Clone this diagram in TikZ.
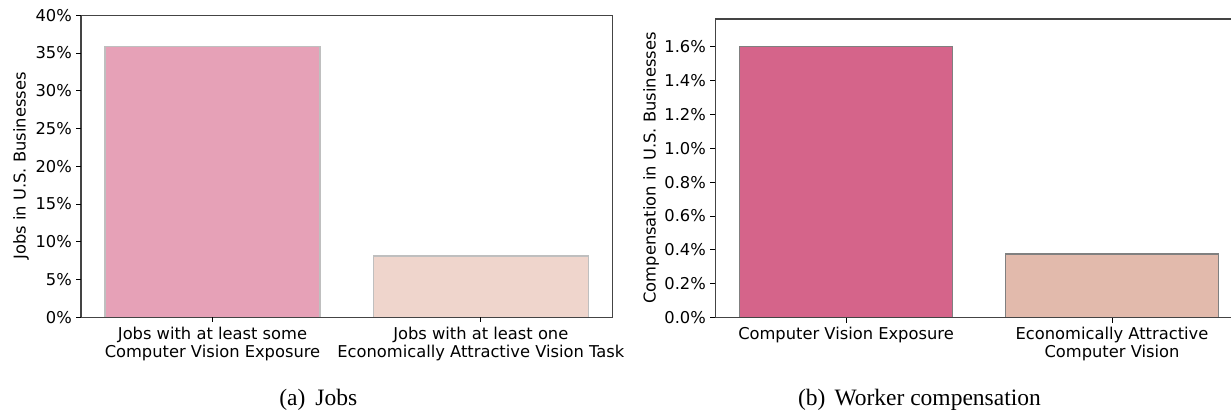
\documentclass[tikz,border=0pt]{standalone}
\usepackage{fontspec}
\newfontfamily\dvs{DejaVu Sans}
\newfontfamily\tms{Liberation Serif}
\definecolor{barA}{HTML}{E6A1B7}
\definecolor{barB}{HTML}{EFD5CC}
\definecolor{barC}{HTML}{D5648A}
\definecolor{barD}{HTML}{E2BAAC}
\definecolor{spinecol}{HTML}{444444}
\tikzset{
  ticklab/.style={font=\dvs\fontsize{16.3bp}{18.7bp}\selectfont, inner sep=0pt, text=black},
  xlab/.style={font=\dvs\fontsize{16.3bp}{18.7bp}\selectfont, inner sep=0pt, align=center, anchor=north},
  ylab/.style={font=\dvs\fontsize{16.3bp}{18.7bp}\selectfont, inner sep=0pt, rotate=90},
  caption/.style={font=\tms\fontsize{23.5bp}{28bp}\selectfont, inner sep=0pt, anchor=base},
  spine/.style={draw=spinecol, line width=1.2bp},
  tickmark/.style={draw=black, line width=1bp},
  lightbar/.style={draw=black!25, line width=1.2bp},
  darkbar/.style={draw=black!50, line width=1.2bp},
}
\begin{document}
\begin{tikzpicture}[x=1bp,y=-1bp]
\useasboundingbox (0,0) rectangle (1231,415);
% ---------- left plot ----------
\filldraw[fill=barA, lightbar] (105,46.7) rectangle (320,317.3);
\filldraw[fill=barB, lightbar] (373.3,256) rectangle (588.3,317.3);
\draw[spine] (81,15.3) rectangle (612.5,317.3);
\foreach \v/\name in {0/a0,5/a5,10/a10,15/a15,20/a20,25/a25,30/a30,35/a35,40/a40}{
  \coordinate (t\name) at (81,{317.3-\v*7.55});
  \draw[tickmark] (t\name) -- ++(-5,0);
  \node[ticklab, anchor=east] (l\name) at (72,{317.3-\v*7.55}) {\v\%};
}
\coordinate (xa1) at (212.5,317.3);
\coordinate (xa2) at (480.8,317.3);
\draw[tickmark] (xa1) -- ++(0,5);
\draw[tickmark] (xa2) -- ++(0,5);
\node[xlab] (xla1) at (212.5,326.5) {Jobs with at least some\\Computer Vision Exposure};
\node[xlab] (xla2) at (480.8,326.5) {Jobs with at least one\\Economically Attractive Vision Task};
\node[ylab] (yla) at (21,166) {Jobs in U.S. Businesses};
\node[caption] (capa) at (318.3,405) {(a)\hskip10bp Jobs};
% ---------- right plot ----------
\filldraw[fill=barC, darkbar] (739.3,46.5) rectangle (952.7,317.7);
\filldraw[fill=barD, darkbar] (1005.3,254) rectangle (1218.7,317.7);
\draw[spine] (1231,19) -- (715.3,19) -- (715.3,317.7) -- (1231,317.7);
\foreach \v/\name in {0.0/b0,0.2/b2,0.4/b4,0.6/b6,0.8/b8,1.0/b10,1.2/b12,1.4/b14,1.6/b16}{
  \coordinate (t\name) at (715.3,{317.7-\v*169.5});
  \draw[tickmark] (t\name) -- ++(-5,0);
  \node[ticklab, anchor=east] (l\name) at (706,{317.7-\v*169.5}) {\v\%};
}
\coordinate (xb1) at (846,317.7);
\coordinate (xb2) at (1112,317.7);
\draw[tickmark] (xb1) -- ++(0,5);
\draw[tickmark] (xb2) -- ++(0,5);
\node[xlab] (xlb1) at (846,326.5) {Computer Vision Exposure};
\node[xlab] (xlb2) at (1112,326.5) {Economically Attractive\\Computer Vision};
\node[ylab] (ylb) at (651,168) {Compensation in U.S. Businesses};
\node[caption] (capb) at (919.5,405) {(b)\hskip9bp Worker compensation};
\end{tikzpicture}
\end{document}
